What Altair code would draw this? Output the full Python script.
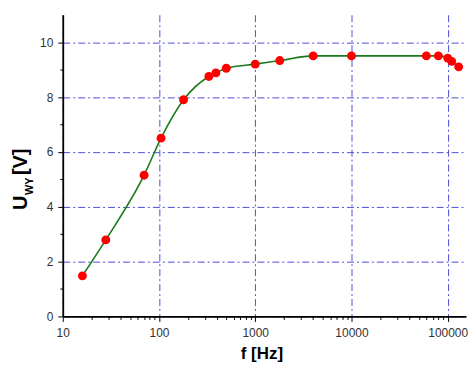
import altair as alt
import pandas as pd

# measured data
freq = [16, 28, 70, 105, 180, 330, 390, 500, 1000, 1800, 4000, 10000,
        60000, 80000, 100000, 110000, 130000]
volts = [1.48, 2.79, 5.15, 6.5, 7.9, 8.75, 8.88, 9.05, 9.2, 9.33, 9.5, 9.5,
         9.5, 9.5, 9.42, 9.3, 9.1]

# axis ticks
x_ticks = [10, 20, 30, 40, 50, 60, 70, 80, 90,
           100, 200, 300, 400, 500, 600, 700, 800, 900,
           1000, 2000, 3000, 4000, 5000, 6000, 7000, 8000, 9000,
           10000, 20000, 30000, 40000, 50000, 60000, 70000, 80000, 90000,
           100000]
x_major = [10, 100, 1000, 10000, 100000]
y_ticks = [0, 1, 2, 3, 4, 5, 6, 7, 8, 9, 10]
y_major = [0, 2, 4, 6, 8, 10]

df = pd.DataFrame({"f": freq, "u": volts})

FONT = "Liberation Sans"
GRID = "#4f4fd8"

x_major_test = "indexof([" + ",".join(str(v) for v in x_major) + "], datum.value) >= 0"
y_major_test = "indexof([" + ",".join(str(v) for v in y_major) + "], datum.value) >= 0"

x_enc = alt.X(
    "f:Q",
    scale=alt.Scale(type="log", domain=[10, 155000], nice=False),
    axis=alt.Axis(
        values=x_ticks,
        title=None,
        labelExpr=f"({x_major_test}) ? datum.label : ''",
        format="d",
        tickSize={"condition": {"test": x_major_test, "value": 5}, "value": 3},
        gridOpacity={"condition": {"test": x_major_test, "value": 1}, "value": 0},
        labelFlush=False,
        labelPadding=6,
    ),
)
y_enc = alt.Y(
    "u:Q",
    scale=alt.Scale(domain=[0, 11], nice=False, zero=True),
    axis=alt.Axis(
        values=y_ticks,
        title=None,
        labelExpr=f"({y_major_test}) ? datum.label : ''",
        tickSize={"condition": {"test": y_major_test, "value": 5}, "value": 3},
        gridOpacity={"condition": {"test": y_major_test, "value": 1}, "value": 0},
        labelPadding=5,
    ),
)

base = alt.Chart(df)

line = base.mark_line(interpolate="monotone", color="#1b7a1b", strokeWidth=1.6).encode(
    x=x_enc, y=y_enc
)
points = base.mark_circle(color="#ff0000", opacity=1, size=80).encode(x=x_enc, y=y_enc)

title_u = alt.Chart(pd.DataFrame({"t": ["U"]})).mark_text(
    angle=270, align="left", baseline="alphabetic", font=FONT, fontWeight="bold",
    fontSize=20, color="#000000"
).encode(text="t:N", x=alt.value(-36), y=alt.value(196))

title_wy = alt.Chart(pd.DataFrame({"t": ["WY"]})).mark_text(
    angle=270, align="left", baseline="alphabetic", font=FONT, fontWeight="bold",
    fontSize=11, color="#000000"
).encode(text="t:N", x=alt.value(-30), y=alt.value(181))

title_v = alt.Chart(pd.DataFrame({"t": ["[V]"]})).mark_text(
    angle=270, align="left", baseline="alphabetic", font=FONT, fontWeight="bold",
    fontSize=20, color="#000000"
).encode(text="t:N", x=alt.value(-36), y=alt.value(161))

title_f = alt.Chart(pd.DataFrame({"t": ["f [Hz]"]})).mark_text(
    align="center", baseline="alphabetic", font=FONT, fontWeight="bold",
    fontSize=17, color="#000000"
).encode(text="t:N", x=alt.value(200), y=alt.value(346))

chart = alt.layer(line, points, title_u, title_wy, title_v, title_f).properties(
    width=405,
    height=303,
    autosize=alt.AutoSizeParams(type="none"),
    padding={"left": 55, "top": 6, "right": 2, "bottom": 48},
    background="#ffffff",
).configure_view(stroke=None).configure_axis(
    domainColor="#000000",
    domainWidth=1.8,
    tickColor="#000000",
    tickWidth=1,
    labelFont=FONT,
    labelFontSize=12,
    labelColor="#333333",
    gridColor=GRID,
    gridWidth=1,
    gridDash=[7, 3, 2, 3],
)

chart.save("out.html", embed_options={"renderer": "svg", "actions": False})
